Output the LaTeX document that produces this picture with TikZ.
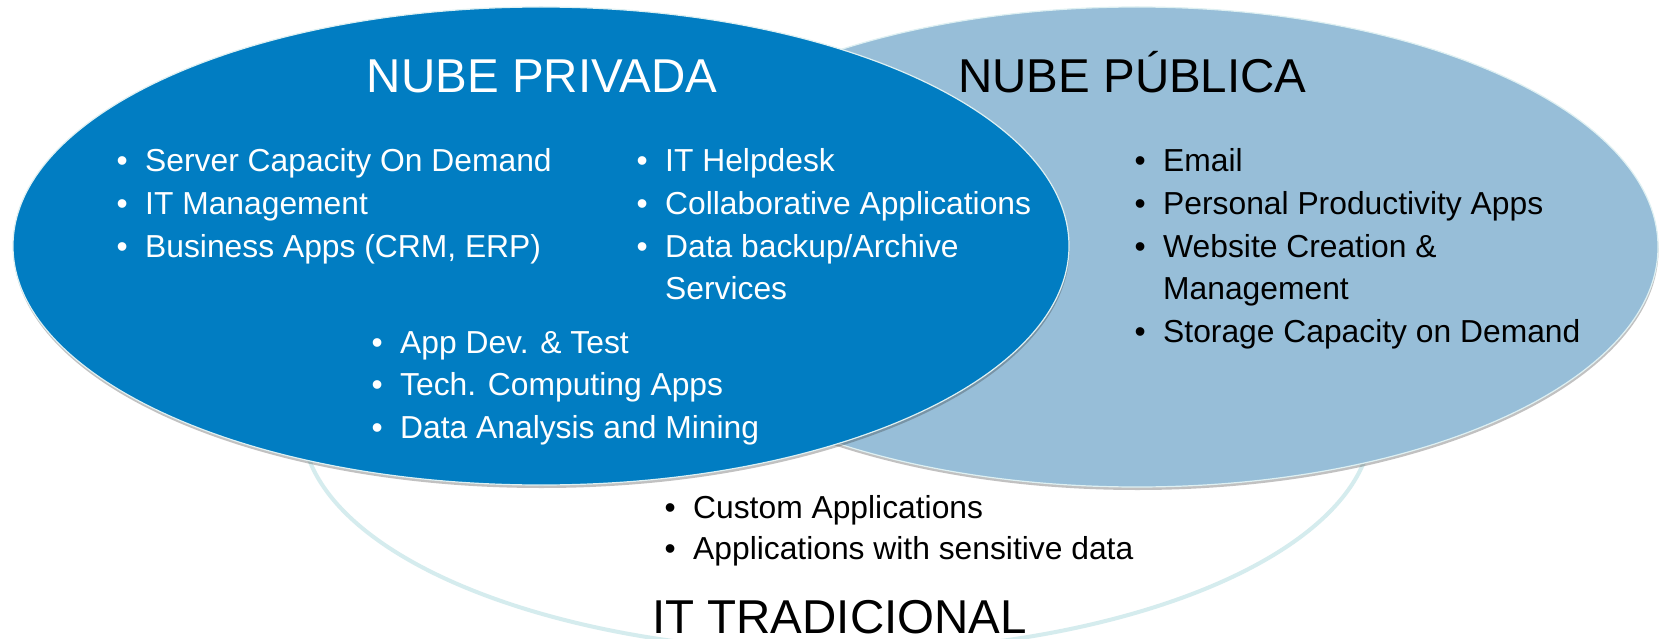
\documentclass[tikz,border=0pt]{standalone}
\usepackage{fontspec}
\setmainfont{Liberation Sans}
\usetikzlibrary{shadows}
\definecolor{privblue}{RGB}{1,125,194}
\definecolor{pubblue}{RGB}{151,190,216}
\definecolor{tradline}{RGB}{213,236,238}
\definecolor{rimline}{RGB}{222,240,242}
\newcommand{\vbul}{\llap{•\hspace{17.4pt}}}
\tikzset{
  vennrim/.style={draw=rimline, line width=1.2pt},
  vshadow/.style={drop shadow={shadow xshift=0.5pt, shadow yshift=-3pt, opacity=0.3, fill=black!80}},
  item/.style={anchor=base west, inner sep=0pt, font=\fontsize{31.8}{38}\selectfont},
  titletext/.style={inner sep=0pt, font=\fontsize{47.5}{57}\selectfont},
}
\begin{document}
\begin{tikzpicture}[x=1pt,y=-1pt]
\clip (0,0) rectangle (1659,639);
\fill[white] (0,0) rectangle (1659,639);
% ellipses
\draw[tradline, line width=4pt] (837,422) ellipse [x radius=535pt, y radius=230pt];
\path[vennrim, fill=pubblue, vshadow] (1137,247) ellipse [x radius=521pt, y radius=240pt];
\path[vennrim, fill=privblue, vshadow] (541,246) ellipse [x radius=528pt, y radius=239pt];
% titles
\node[titletext, white, anchor=base] (tpriv) at (542,93) {NUBE PRIVADA};
\node[titletext, black, anchor=base west] (tpub) at (958,93) {NUBE PÚBLICA};
\node[titletext, black, anchor=base west] (ttrad) at (652,633) {IT TRADICIONAL};
% private, left column
\node[item, white] (pa1) at (145,172) {\vbul Server Capacity On Demand};
\node[item, white] (pa2) at (145,214.5) {\vbul IT Management};
\node[item, white] (pa3) at (145,257) {\vbul Business Apps (CRM, ERP)};
% private, right column
\node[item, white] (pb1) at (665,172) {\vbul IT Helpdesk};
\node[item, white] (pb2) at (665,214.5) {\vbul Collaborative Applications};
\node[item, white] (pb3) at (665,257) {\vbul Data backup/Archive};
\node[item, white] (pb4) at (665,299.5) {Services};
% private, bottom group
\node[item, white] (pc1) at (400,353) {\vbul App Dev. \& Test};
\node[item, white] (pc2) at (400,395.5) {\vbul Tech. Computing Apps};
\node[item, white] (pc3) at (400,438) {\vbul Data Analysis and Mining};
% public
\node[item, black] (pu1) at (1163,172) {\vbul Email};
\node[item, black] (pu2) at (1163,214.5) {\vbul Personal Productivity Apps};
\node[item, black] (pu3) at (1163,257) {\vbul Website Creation \&};
\node[item, black] (pu4) at (1163,299.5) {Management};
\node[item, black] (pu5) at (1163,342) {\vbul Storage Capacity on Demand};
% traditional
\node[item, black] (tr1) at (693,518) {\vbul Custom Applications};
\node[item, black] (tr2) at (693,559) {\vbul Applications with sensitive data};
\end{tikzpicture}
\end{document}
